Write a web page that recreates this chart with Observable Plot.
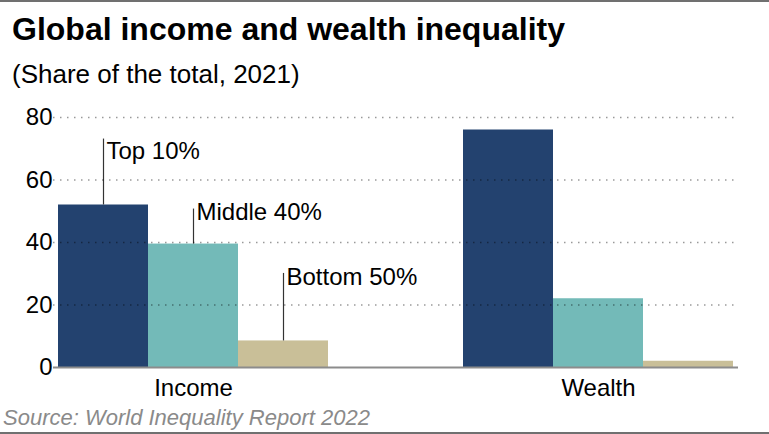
<!DOCTYPE html>
<html><head><meta charset="utf-8">
<script src="https://cdn.jsdelivr.net/npm/d3@7"></script>
<script src="https://cdn.jsdelivr.net/npm/@observablehq/plot@0.6"></script>
<style>
body{margin:0;width:769px;height:434px;position:relative;overflow:hidden;background:#fff;font-family:"Liberation Sans",Arial,sans-serif;}
#topline{position:absolute;left:0;top:0;width:769px;height:2px;background:#707070;}
#bottomline{position:absolute;left:0;top:432px;width:769px;height:2px;background:#707070;}
#title{position:absolute;left:12px;top:13px;font-size:32px;font-weight:bold;line-height:32px;color:#000;white-space:nowrap;}
#subtitle{position:absolute;left:12px;top:61px;font-size:26px;line-height:26px;color:#000;white-space:nowrap;}
#chart{position:absolute;left:0;top:100px;}
#grid{position:absolute;left:0;top:100px;pointer-events:none;}
#source{position:absolute;left:3px;top:407px;font-size:22px;line-height:22px;font-style:italic;color:#8a8a8a;white-space:nowrap;}
</style></head>
<body>
<div id="topline"></div>
<div id="title">Global income and wealth inequality</div>
<div id="subtitle">(Share of the total, 2021)</div>
<div id="chart"></div>
<div id="grid"></div>
<div id="source">Source: World Inequality Report 2022</div>
<div id="bottomline"></div>
<script>
const groups = ["Income", "Wealth"];
const series = ["Top 10%", "Middle 40%", "Bottom 50%"];
const incomeValues = [52, 39.5, 8.5];
const wealthValues = [76, 22, 2];
const yTicks = [0, 20, 40, 60, 80];
const colors = ["#23426f", "#73bab8", "#c9bf98"];
// annotation (label) heights, in data units
const labelLineTop = [73.1, 50.7, 30.1];
const labelBaseline = [66.6, 47.2, 26.3];

const data = [];
series.forEach((s, i) => data.push({group: "Income", series: s, value: incomeValues[i]}));
series.forEach((s, i) => data.push({group: "Wealth", series: s, value: wealthValues[i]}));
const labels = series.map((s, i) => ({group: "Income", series: s, value: incomeValues[i], top: labelLineTop[i], base: labelBaseline[i]}));

const common = {
  width: 769,
  height: 305,
  marginLeft: 53,
  marginRight: 31,
  marginTop: 17,
  marginBottom: 38,
  style: {fontFamily: "'Liberation Sans', Arial, sans-serif", fontSize: "24px", color: "#000", background: "transparent", overflow: "visible"}
};

const plot = Plot.plot({
  ...common,
  fx: {domain: groups, paddingInner: 1/3, paddingOuter: 0.0123, label: null, axis: "bottom", tickSize: 0, tickPadding: 11},
  x: {domain: series, padding: 0, axis: null},
  y: {domain: [0, 80], ticks: yTicks, label: null, tickSize: 0, tickPadding: 6},
  color: {domain: series, range: colors},
  marks: [
    Plot.barY(data, {fx: "group", x: "series", y: "value", fill: "series"}),
    Plot.ruleX(labels, {fx: "group", x: "series", y1: "value", y2: "top", stroke: "#333", strokeWidth: 1.2}),
    Plot.text(labels, {fx: "group", x: "series", y: "base", text: "series", textAnchor: "start", lineAnchor: "bottom", dx: 3, fill: "#000", fontSize: 24})
  ]
});
document.getElementById("chart").appendChild(plot);

// grid overlay spanning the whole frame (drawn over the bars, semi-transparent)
const grid = Plot.plot({
  ...common,
  y: {domain: [0, 80], axis: null},
  marks: [
    Plot.ruleY(yTicks.filter(d => d > 0), {stroke: "#000", strokeOpacity: 0.4, strokeWidth: 1.5, strokeDasharray: "1.5,5.5"}),
    Plot.ruleY([0], {stroke: "#8c8c8c", strokeWidth: 2})
  ]
});
document.getElementById("grid").appendChild(grid);
</script>
</body></html>
